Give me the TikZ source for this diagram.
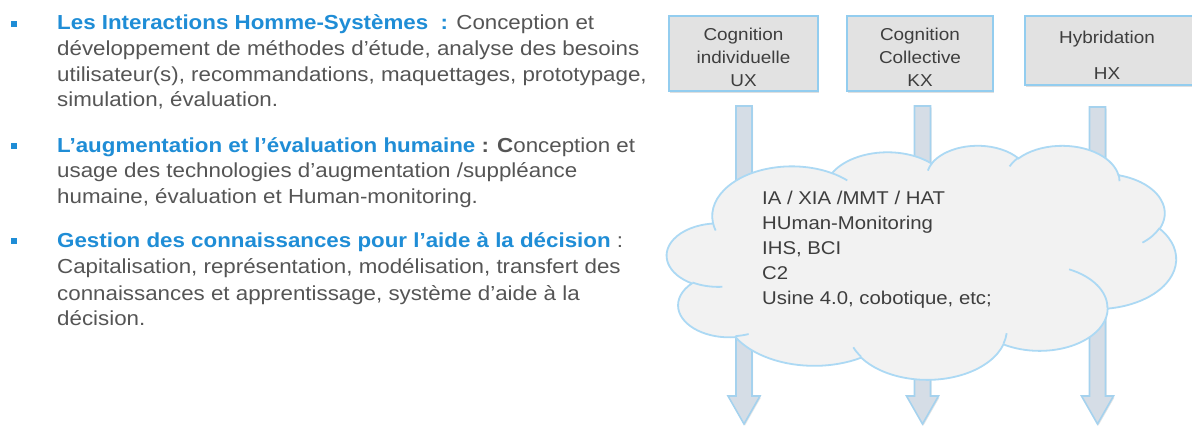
\documentclass[tikz,border=0pt]{standalone}
\usepackage{fontspec}
\setmainfont[FakeStretch=1.1]{Liberation Sans}
\usetikzlibrary{calc,shadows}
\definecolor{hblue}{HTML}{1F8DD6}
\definecolor{bodygrey}{HTML}{555555}
\definecolor{darkgrey}{HTML}{3E3E3E}
\definecolor{boxfill}{HTML}{E2E2E2}
\definecolor{boxline}{HTML}{93CDEF}
\definecolor{arrfill}{HTML}{D5DDE6}
\definecolor{arrline}{HTML}{A5D2EE}
\definecolor{cloudfill}{HTML}{F2F2F2}
\definecolor{cloudline}{HTML}{ACD9F4}
\newcommand\ooarc[4]{arc[start angle={pa(#1,#2,#3)}, delta angle={da(#1,#2,#3,#4)}, x radius=#1, y radius=#2]}
\newcommand\blockarrow[2]{%
  \draw[barrow] let \p1=(#1), \p2=(#2) in
   (\x1-8pt,\y1) -- (\x1+8pt,\y1) -- (\x1+8pt,\y2+28pt) -- (\x1+16pt,\y2+28pt)
   -- (\x2,\y2) -- (\x1-16pt,\y2+28pt) -- (\x1-8pt,\y2+28pt) -- cycle;}
\begin{document}
\begin{tikzpicture}[x=1pt,y=-1pt,
  declare function={
    pa(\rA,\rB,\tA)=atan2(\rA*sin(\tA),\rB*cos(\tA));
    da(\rA,\rB,\tA,\sW)=ifthenelse(\sW>0,
        Mod(pa(\rA,\rB,\tA+\sW)-pa(\rA,\rB,\tA),360),
        Mod(pa(\rA,\rB,\tA+\sW)-pa(\rA,\rB,\tA),360)-360);
  },
  lefttxt/.style={anchor=base west, inner sep=0pt, text=bodygrey,
     font=\fontsize{20.3}{25.7}\selectfont},
  bul/.style={fill=hblue, minimum size=6pt, inner sep=0pt},
  cbox/.style={draw=boxline, line width=2pt, fill=boxfill,
     drop shadow={shadow xshift=1pt, shadow yshift=-2pt, opacity=0.25}},
  boxtxt/.style={align=center, text=darkgrey, inner sep=0pt,
     font=\fontsize{17.2}{23}\selectfont},
  barrow/.style={draw=arrline, line width=1.6pt, fill=arrfill,
     drop shadow={shadow xshift=1pt, shadow yshift=-1.5pt, opacity=0.2}},
  cloudsty/.style={draw=cloudline, line width=1.8pt, fill=cloudfill},
  cloudarc/.style={draw=cloudline, line width=1.8pt},
  cloudtxt/.style={anchor=base west, inner sep=0pt, text=darkgrey,
     font=\fontsize{18.5}{25}\selectfont}
]
\useasboundingbox[fill=white] (0,0) rectangle (1192,426);

% ---------- left text ----------
\node[bul] (u1) at (14,24) {};
\node[lefttxt] (l11) at (57,29) {\textbf{\color{hblue}Les Interactions Homme-Systèmes~ :} Conception et};
\node[lefttxt] (l12) at (57,55) {développement de méthodes d’étude, analyse des besoins};
\node[lefttxt] (l13) at (57,81) {utilisateur(s), recommandations, maquettages, prototypage,};
\node[lefttxt] (l14) at (57,106) {simulation, évaluation.};

\node[bul] (u2) at (14,146) {};
\node[lefttxt] (l21) at (57,152) {\textbf{\color{hblue}L’augmentation et l’évaluation humaine} \textbf{: C}onception et};
\node[lefttxt] (l22) at (57,177) {usage des technologies d’augmentation /suppléance};
\node[lefttxt] (l23) at (57,203) {humaine, évaluation et Human-monitoring.};

\node[bul] (u3) at (14,241) {};
\node[lefttxt] (l31) at (57,247) {\textbf{\color{hblue}Gestion des connaissances pour l’aide à la décision} :};
\node[lefttxt] (l32) at (57,273) {Capitalisation, représentation, modélisation, transfert des};
\node[lefttxt] (l33) at (57,300) {connaissances et apprentissage, système d’aide à la};
\node[lefttxt] (l34) at (57,325) {décision.};

% ---------- boxes ----------
\node[cbox, minimum width=149pt, minimum height=75pt] (b1) at (743.5,53.5) {};
\node[cbox, minimum width=146pt, minimum height=75pt] (b2) at (920,53.5) {};
\node[cbox, minimum width=169pt, minimum height=69pt] (b3) at (1109.5,50.5) {};
\node[boxtxt] (t1) at (743.5,57.5) {Cognition\\individuelle\\UX};
\node[boxtxt] (t2) at (920,57.5) {Cognition\\Collective\\KX};
\node[boxtxt] (t3) at (1107,55) {Hybridation\\[13pt]HX};

% ---------- block arrows ----------
\coordinate (a1s) at (744,106);  \coordinate (a1e) at (744,424);
\coordinate (a2s) at (922.5,106); \coordinate (a2e) at (922.5,424);
\coordinate (a3s) at (1097.5,107); \coordinate (a3e) at (1097.5,424);
\blockarrow{a1s}{a1e}
\blockarrow{a2s}{a2e}
\blockarrow{a3s}{a3e}

% ---------- cloud ----------
\begin{scope}[shift={(667,145)}, x=1.17824pt, y=-0.54167pt]
\draw[cloudsty] (39,143.7)
  \ooarc{67.53}{91.90}{-190.4875}{123.7805}
  \ooarc{53.33}{72.67}{-144.1024}{89.9452}
  \ooarc{43.65}{59.45}{-145.8079}{99.7230}
  \ooarc{48.57}{65.95}{-130.9861}{117.2417}
  \ooarc{53.33}{72.73}{-78.7089}{109.0269}
  \ooarc{67.75}{92.20}{-46.2673}{130.2690}
  \ooarc{57.85}{78.67}{0.6250}{114.0333}
  \ooarc{67.52}{92.15}{22.4516}{115.1726}
  \ooarc{77.20}{105.43}{66.2426}{75.7110}
  \ooarc{43.60}{59.18}{-274.9421}{146.7356}
  \ooarc{43.45}{59.45}{-246.8285}{152.5189}
  -- cycle;
\draw[cloudarc]
  (46.93,261.77) \ooarc{43.45}{59.45}{86.742}{26.4295}
  (69.28,348.99) \ooarc{43.60}{59.18}{73.6105}{11.4475}
  (164.78,390.90) \ooarc{67.52}{92.15}{137.6242}{14.0811}
  (288.27,347.51) \ooarc{67.52}{92.15}{6.4533}{15.9984}
  (341.29,229.54) \ooarc{57.85}{78.67}{-70.2924}{70.9174}
  (417.98,153.54) \ooarc{53.33}{72.73}{30.3180}{27.7515}
  (383.24,54.26) \ooarc{48.57}{65.95}{-13.7443}{14.8589}
  (290.78,39.52) \ooarc{48.57}{65.95}{-149.1815}{18.1954}
  (221.41,47.20) \ooarc{43.65}{59.45}{-163.4943}{17.6864}
  (140.00,51.92) \ooarc{67.53}{91.90}{-66.7070}{12.3194}
  (41.27,157.89) \ooarc{67.53}{91.90}{157.6544}{11.8582};
\end{scope}

% ---------- cloud text ----------
\node[cloudtxt] (c1) at (762,204) {IA / XIA /MMT / HAT};
\node[cloudtxt] (c2) at (762,229) {HUman-Monitoring};
\node[cloudtxt] (c3) at (762,254) {IHS, BCI};
\node[cloudtxt] (c4) at (762,279) {C2};
\node[cloudtxt] (c5) at (762,304) {Usine 4.0, cobotique, etc;};
\end{tikzpicture}
\end{document}
